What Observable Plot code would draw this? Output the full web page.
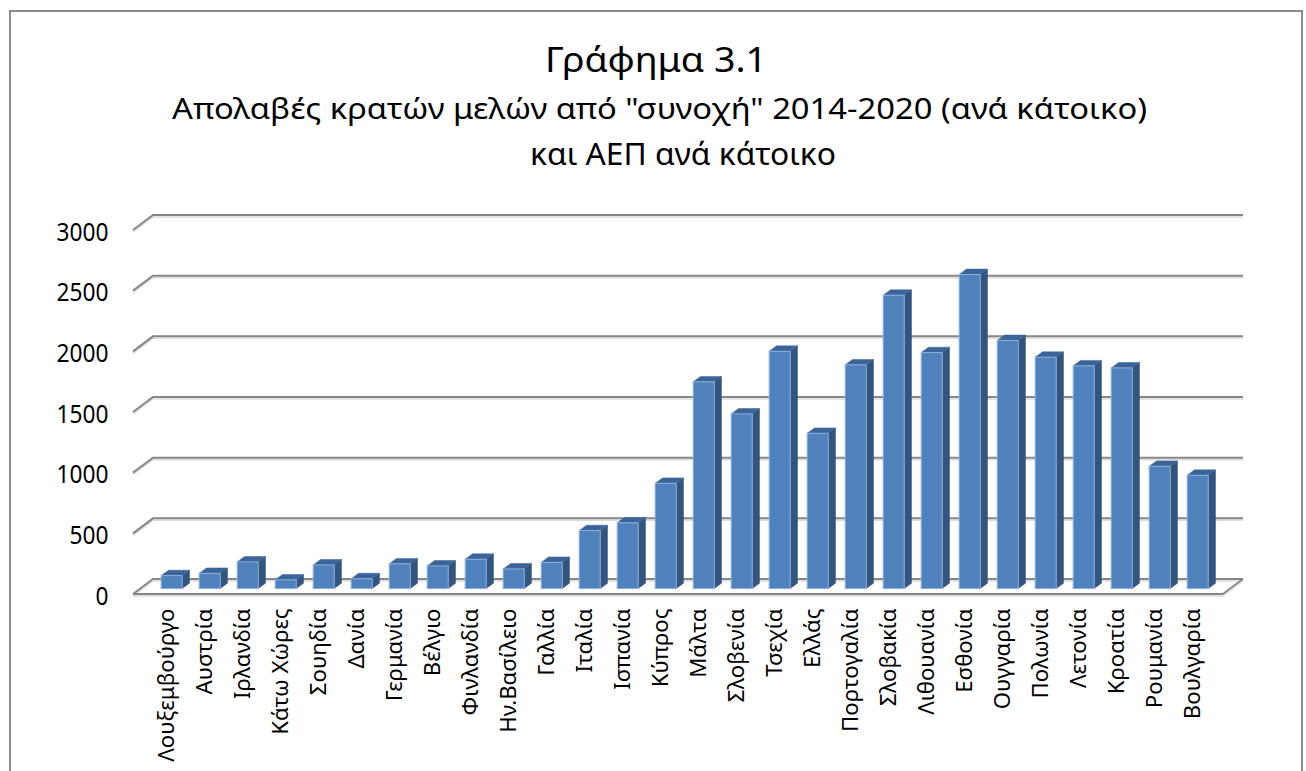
<!DOCTYPE html>
<html><head><meta charset="utf-8">
<script src="https://cdn.jsdelivr.net/npm/d3@7"></script>
<script src="https://cdn.jsdelivr.net/npm/@observablehq/plot@0.6"></script>
<style>
html,body{margin:0;padding:0;background:#fff}
body{width:1306px;height:771px;overflow:hidden;position:relative;font-family:"Noto Sans",sans-serif}
#frame{position:absolute;left:9px;top:10px;width:1294px;height:820px;border:2px solid #8a8a8a;box-sizing:border-box}
#chart{position:absolute;left:0;top:0}
#titles{position:absolute;left:0;top:0}
</style></head><body>
<div id="frame"></div>
<div id="chart"></div>
<svg id="titles" width="1306" height="200"></svg>
<script>
const countries = ["Λουξεμβούργο","Αυστρία","Ιρλανδία","Κάτω Χώρες","Σουηδία","Δανία","Γερμανία","Βέλγιο","Φινλανδία","Ην.Βασίλειο","Γαλλία","Ιταλία","Ισπανία","Κύπρος","Μάλτα","Σλοβενία","Τσεχία","Ελλάς","Πορτογαλία","Σλοβακία","Λιθουανία","Εσθονία","Ουγγαρία","Πολωνία","Λετονία","Κροατία","Ρουμανία","Βουλγαρία"];
const values = [107,126,220,72,195,82,204,187,242,162,216,478,542,868,1704,1440,1956,1280,1844,2418,1945,2589,2045,1907,1836,1819,1008,934];
const yTicks = [0,500,1000,1500,2000,2500,3000];
const titleLines = ["Γράφημα 3.1","Απολαβές κρατών μελών από \"συνοχή\" 2014-2020 (ανά κάτοικο)","και ΑΕΠ ανά κάτοικο"];

const data = countries.map((c,i)=>({country:c, value:values[i]}));

const FONT = '"Noto Sans"';
const cnv = document.createElement("canvas").getContext("2d");
function fitSize(text, target){ cnv.font = `100px ${FONT}`; return 100*target/cnv.measureText(text).width; }

// titles: size from cap height, width matched with textLength
const tl = d3.select("#titles");
const tSpec = [[656,71.7,222,25],[659.5,119.3,975,21.3],[683,165,306,21.7]];
titleLines.forEach((t,i)=>{
  const [cx,by,w,cap] = tSpec[i];
  tl.append("text").attr("x",cx).attr("y",by).attr("text-anchor","middle")
    .attr("font-family","Noto Sans").attr("font-size",cap/0.714)
    .attr("textLength",w).attr("lengthAdjust","spacingAndGlyphs")
    .attr("fill","#000").text(t);
});

const yFont = fitSize("3000",52);
const xFont = fitSize("ΛουξεμβούργοΒουλγαρία",264);

// 3D geometry (pixel offsets)
const DX = 20, DY = -15;     // wall depth
const BX = 7.2, BY = -5.4;   // bar front-face offset
const BDX = 7.3, BDY = -5.4; // bar depth

const gridRender = (index, scales, vals, dims) => {
  const g = d3.create("svg:g");
  const xl = dims.marginLeft, xr = dims.width - dims.marginRight;
  for (const i of index) {
    const y = vals.y[i];
    g.append("path").attr("d",`M${xl},${y+2}L${xl+DX},${y+DY+2}L${xr+DX},${y+DY+2}`)
      .attr("fill","none").attr("stroke","#dcdcdc").attr("stroke-width",1.5);
    g.append("path").attr("d",`M${xl},${y}L${xl+DX},${y+DY}L${xr+DX},${y+DY}`)
      .attr("fill","none").attr("stroke","#868686").attr("stroke-width",2);
  }
  return g.node();
};
const floorRender = (index, scales, vals, dims) => {
  const g = d3.create("svg:g");
  const xl = dims.marginLeft, xr = dims.width - dims.marginRight;
  for (const i of index) {
    const y = vals.y[i];
    g.append("path").attr("d",`M${xl},${y}L${xr},${y}L${xr+DX},${y+DY}`)
      .attr("fill","none").attr("stroke","#868686").attr("stroke-width",2);
    g.append("path").attr("d",`M${xl},${y+2}L${xr},${y+2}L${xr+DX},${y+DY+2}`)
      .attr("fill","none").attr("stroke","#dcdcdc").attr("stroke-width",1.5);
  }
  return g.node();
};
const barRender = (index, scales, vals, dims) => {
  const g = d3.create("svg:g");
  const bwRaw = scales.x.bandwidth;
  const bw = typeof bwRaw === "function" ? bwRaw() : bwRaw;
  for (const i of index) {
    const x0 = vals.x[i] + BX, x1 = x0 + bw;
    const yb = vals.y1[i] + BY, yt = vals.y2[i] + BY;
    g.append("path").attr("d",`M${x1},${yb}L${x1+BDX},${yb+BDY}L${x1+BDX},${yt+BDY}L${x1},${yt}Z`)
      .attr("fill","#32557f").attr("stroke","#32557f").attr("stroke-width",0.5);
    g.append("path").attr("d",`M${x0},${yt}L${x1},${yt}L${x1+BDX},${yt+BDY}L${x0+BDX},${yt+BDY}Z`)
      .attr("fill","#3b6598").attr("stroke","#3b6598").attr("stroke-width",0.5);
    g.append("rect").attr("x",x0).attr("y",yt).attr("width",bw).attr("height",yb-yt)
      .attr("fill","#4f81bd").attr("stroke","#8eb0da").attr("stroke-width",1);
  }
  return g.node();
};

const chart = Plot.plot({
  width: 1306, height: 771,
  marginLeft: 133, marginRight: 83, marginTop: 230, marginBottom: 177,
  style: {fontFamily: "Noto Sans", color: "#000", background: "transparent", overflow: "visible"},
  x: {domain: countries, paddingInner: 0.435, paddingOuter: 0.2175, label: null},
  y: {domain: [0,3000], label: null},
  marks: [
    Plot.ruleY(yTicks, {y: d=>d, render: gridRender}),
    Plot.ruleY([0], {y: d=>d, render: floorRender}),
    Plot.barY(data, {x: "country", y: "value", render: barRender}),
    Plot.axisY(yTicks, {anchor: "left", tickSize: 0, tickPadding: 25, fontSize: yFont, dy: 2, tickFormat: d=>String(d), label: null}),
    Plot.axisX({tickRotate: -90, tickSize: 0, tickPadding: 14, fontSize: xFont, dx: 2, label: null})
  ]
});
// make the y tick labels a little taller, like the condensed original face
d3.select(chart).selectAll('g[aria-label="y-axis tick label"] text').each(function(){
  const t = this.getAttribute("transform") || "";
  this.setAttribute("transform", t + " scale(1,1.12)");
});
document.getElementById("chart").appendChild(chart);
</script>
</body></html>
